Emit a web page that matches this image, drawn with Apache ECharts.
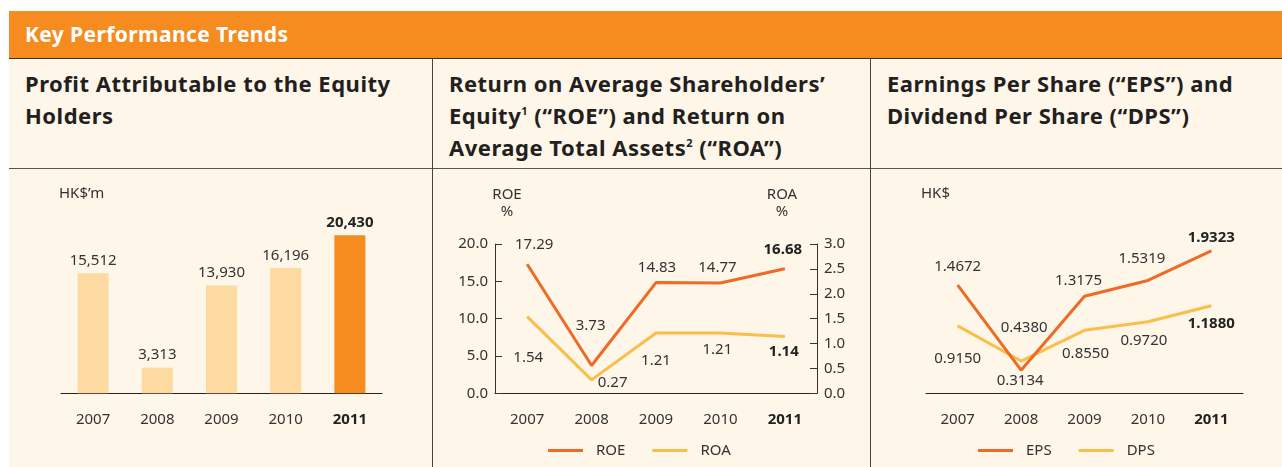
<!DOCTYPE html>
<html>
<head>
<meta charset="utf-8">
<title>Key Performance Trends</title>
<script src="https://cdn.jsdelivr.net/npm/echarts@6/dist/echarts.min.js"></script>
<style>
  body { margin: 0; width: 1282px; height: 467px; overflow: hidden; background: #fff; font-family: 'Noto Sans', sans-serif; }
  #header { position: absolute; left: 9px; top: 11px; width: 1273px; height: 47px; background: #F68B1F;
    color: #fff; font-weight: bold; font-size: 21px; letter-spacing: 0.4px; line-height: 47px; padding-left: 16px; box-sizing: border-box; }
  #panel { position: absolute; left: 9px; top: 58px; width: 1273px; height: 409px; background: #FDF6E9;
    border-top: 1px solid #333; box-sizing: border-box; }
  .hline { position: absolute; left: 9px; width: 1273px; top: 168px; border-top: 1.5px solid #555; }
  .vline { position: absolute; top: 58px; height: 409px; border-left: 1.5px solid #444; }
  .title { position: absolute; top: 67px; font-weight: bold; font-size: 22px; letter-spacing: 0.5px; line-height: 32px; color: #231f20; white-space: nowrap; }
  .title sup { font-size: 11px; vertical-align: 9px; line-height: 0; }
  #chart { position: absolute; left: 0; top: 0; width: 1282px; height: 467px; }
</style>
</head>
<body>
<div id="header">Key Performance Trends</div>
<div id="panel"></div>
<div class="hline"></div>
<div class="vline" style="left:432px"></div>
<div class="vline" style="left:870px"></div>
<div class="title" style="left:25px">Profit Attributable to the Equity<br>Holders</div>
<div class="title" style="left:449px">Return on Average Shareholders’<br>Equity<sup>1</sup> (“ROE”) and Return on<br>Average Total Assets<sup>2</sup> (“ROA”)</div>
<div class="title" style="left:887px">Earnings Per Share (“EPS”) and<br>Dividend Per Share (“DPS”)</div>
<div id="chart"></div>
<script>
// data
const years = ['2007', '2008', '2009', '2010', '2011'];
const profit = [15512, 3313, 13930, 16196, 20430];
const roe = [17.29, 3.73, 14.83, 14.77, 16.68];
const roa = [1.54, 0.27, 1.21, 1.21, 1.14];
const eps = [1.4672, 0.3134, 1.3175, 1.5319, 1.9323];
const dps = [0.9150, 0.4380, 0.8550, 0.9720, 1.1880];
const roeAxis = { min: 0, max: 20, interval: 5 };
const roaAxis = { min: 0, max: 3, interval: 0.5 };

// label placement (offset from point)
const roeOffsets = [[7, -19], [-1, -40], [1, -15], [-3, -15], [-2, -19]];
const roaOffsets = [[1, 41], [21, 3], [0, 28], [-3, 17], [-1, 15]];
const epsOffsets = [[0, -18], [-1, 11], [-6, -15], [-6, -22], [0, -13]];
const dpsOffsets = [[0, 33], [3, -33], [1, 23], [-4, 19], [0, 18]];

const hi = years.length - 1;
const dark = '#EF6A24';
const light = '#FBBE4B';
const txt = '#333333';
const font = 'Noto Sans';

const chart = echarts.init(document.getElementById('chart'));

const catAxis = (gridIndex) => ({
  type: 'category',
  gridIndex,
  data: years,
  boundaryGap: true,
  axisTick: { show: false },
  axisLine: { lineStyle: { color: '#222', width: 1 } },
  axisLabel: {
    interval: 0,
    fontSize: 15,
    color: txt,
    fontFamily: font,
    margin: 19,
    formatter: (v, i) => (i === hi ? '{b|' + v + '}' : v),
    rich: { b: { fontWeight: 'bold', fontSize: 15, color: '#222', fontFamily: font } },
  },
});

const sideAxis = (position, cfg) => ({
  type: 'value',
  gridIndex: 1,
  position,
  min: cfg.min,
  max: cfg.max,
  interval: cfg.interval,
  axisLine: { show: true, lineStyle: { color: '#333', width: 1 } },
  axisTick: { show: true, inside: true, length: 7, lineStyle: { color: '#333' } },
  axisLabel: { fontSize: 15, color: txt, fontFamily: font, margin: 7, formatter: (v) => v.toFixed(1) },
  splitLine: { show: false },
});

const lineSeries = (name, values, offsets, color, xi, yi, digits) => ({
  name,
  type: 'line',
  xAxisIndex: xi,
  yAxisIndex: yi,
  color,
  symbol: 'circle',
  symbolSize: 1,
  lineStyle: { width: 3, color },
  itemStyle: { color },
  z: name === 'ROE' || name === 'EPS' ? 3 : 2,
  data: values.map((v, i) => ({
    value: v,
    label: {
      show: true,
      position: 'inside',
      offset: offsets[i],
      fontWeight: i === hi ? 'bold' : 'normal',
      color: i === hi ? '#222' : txt,
    },
  })),
  label: { fontSize: 15, fontFamily: font, formatter: (p) => p.value.toFixed(digits) },
});

const unitText = (x, y, text, align) => ({
  type: 'text',
  x,
  y,
  style: { text, fill: txt, fontSize: 15, fontFamily: font, align, verticalAlign: 'middle', lineHeight: 17 },
});

chart.setOption({
  animation: false,
  grid: [
    { left: 61, width: 321, top: 200, height: 193.3, outerBoundsMode: 'none' },
    { left: 495, width: 322, top: 244, height: 149.3, outerBoundsMode: 'none' },
    { left: 926, width: 317, top: 209.1, height: 184.2, outerBoundsMode: 'none' },
  ],
  xAxis: [catAxis(0), catAxis(1), catAxis(2)],
  yAxis: [
    { type: 'value', gridIndex: 0, min: 0, max: 25000, show: false },
    sideAxis('left', roeAxis),
    sideAxis('right', roaAxis),
    { type: 'value', gridIndex: 2, min: 0, max: 2.5, show: false },
  ],
  legend: [
    {
      data: ['ROE', 'ROA'], left: 548, top: 443, padding: 0, icon: 'rect',
      itemWidth: 35, itemHeight: 3, itemGap: 27,
      textStyle: { fontSize: 15, color: txt, fontFamily: font, padding: [0, 0, 0, 8] },
    },
    {
      data: ['EPS', 'DPS'], left: 978, top: 443, padding: 0, icon: 'rect',
      itemWidth: 35, itemHeight: 3, itemGap: 27,
      textStyle: { fontSize: 15, color: txt, fontFamily: font, padding: [0, 0, 0, 8] },
    },
  ],
  graphic: [
    unitText(59, 194, 'HK$’m', 'left'),
    unitText(507, 203, 'ROE\n%', 'center'),
    unitText(782, 203, 'ROA\n%', 'center'),
    unitText(921, 194, 'HK$', 'left'),
  ],
  series: [
    {
      name: 'Profit',
      type: 'bar',
      xAxisIndex: 0,
      yAxisIndex: 0,
      barWidth: 31,
      data: profit.map((v, i) => ({
        value: v,
        itemStyle: { color: i === hi ? '#F68B1F' : '#FDDAA0' },
        label: { fontWeight: i === hi ? 'bold' : 'normal', color: i === hi ? '#222' : txt },
      })),
      label: {
        show: true,
        position: 'top',
        distance: 5,
        fontSize: 15,
        fontFamily: font,
        formatter: (p) => p.value.toLocaleString('en-US'),
      },
    },
    lineSeries('ROE', roe, roeOffsets, dark, 1, 1, 2),
    lineSeries('ROA', roa, roaOffsets, light, 1, 2, 2),
    lineSeries('EPS', eps, epsOffsets, dark, 2, 3, 4),
    lineSeries('DPS', dps, dpsOffsets, light, 2, 3, 4),
  ],
});

window.addEventListener('resize', () => chart.resize());
</script>
</body>
</html>
